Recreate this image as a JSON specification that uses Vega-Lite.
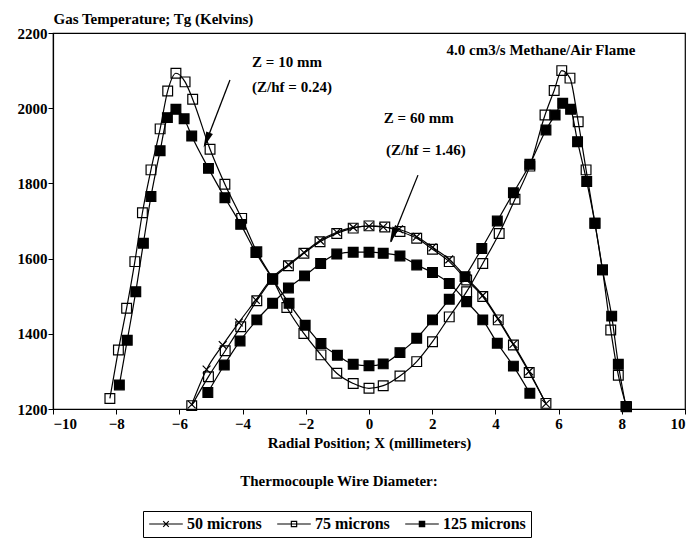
{
  "$schema": "https://vega.github.io/schema/vega-lite/v6.json",
  "width": 632,
  "height": 376,
  "autosize": {"type": "none"},
  "padding": {"left": 53, "top": 33, "right": 5, "bottom": 133},
  "background": "white",
  "datasets": {
    "pts": [
      {"z": "10 mm", "wire": "75 microns", "x": -8.2, "t": 1228},
      {"z": "10 mm", "wire": "75 microns", "x": -7.93, "t": 1357},
      {"z": "10 mm", "wire": "75 microns", "x": -7.67, "t": 1468},
      {"z": "10 mm", "wire": "75 microns", "x": -7.41, "t": 1592},
      {"z": "10 mm", "wire": "75 microns", "x": -7.17, "t": 1722},
      {"z": "10 mm", "wire": "75 microns", "x": -6.9, "t": 1836},
      {"z": "10 mm", "wire": "75 microns", "x": -6.61, "t": 1945},
      {"z": "10 mm", "wire": "75 microns", "x": -6.37, "t": 2046},
      {"z": "10 mm", "wire": "75 microns", "x": -6.11, "t": 2093},
      {"z": "10 mm", "wire": "75 microns", "x": -5.82, "t": 2070},
      {"z": "10 mm", "wire": "75 microns", "x": -5.58, "t": 2024},
      {"z": "10 mm", "wire": "75 microns", "x": -5.03, "t": 1891},
      {"z": "10 mm", "wire": "75 microns", "x": -4.56, "t": 1798},
      {"z": "10 mm", "wire": "75 microns", "x": -4.03, "t": 1707},
      {"z": "10 mm", "wire": "75 microns", "x": -3.55, "t": 1618},
      {"z": "10 mm", "wire": "75 microns", "x": -3.05, "t": 1546},
      {"z": "10 mm", "wire": "75 microns", "x": -2.6, "t": 1470},
      {"z": "10 mm", "wire": "75 microns", "x": -2.06, "t": 1401},
      {"z": "10 mm", "wire": "75 microns", "x": -1.52, "t": 1344},
      {"z": "10 mm", "wire": "75 microns", "x": -1.02, "t": 1295},
      {"z": "10 mm", "wire": "75 microns", "x": -0.5, "t": 1268},
      {"z": "10 mm", "wire": "75 microns", "x": 0, "t": 1255},
      {"z": "10 mm", "wire": "75 microns", "x": 0.45, "t": 1262},
      {"z": "10 mm", "wire": "75 microns", "x": 0.98, "t": 1288},
      {"z": "10 mm", "wire": "75 microns", "x": 1.51, "t": 1326},
      {"z": "10 mm", "wire": "75 microns", "x": 2.01, "t": 1379},
      {"z": "10 mm", "wire": "75 microns", "x": 2.54, "t": 1445},
      {"z": "10 mm", "wire": "75 microns", "x": 3.09, "t": 1512},
      {"z": "10 mm", "wire": "75 microns", "x": 3.6, "t": 1587},
      {"z": "10 mm", "wire": "75 microns", "x": 4.12, "t": 1667},
      {"z": "10 mm", "wire": "75 microns", "x": 4.62, "t": 1758},
      {"z": "10 mm", "wire": "75 microns", "x": 5.09, "t": 1846},
      {"z": "10 mm", "wire": "75 microns", "x": 5.57, "t": 1982},
      {"z": "10 mm", "wire": "75 microns", "x": 5.86, "t": 2047},
      {"z": "10 mm", "wire": "75 microns", "x": 6.1, "t": 2100},
      {"z": "10 mm", "wire": "75 microns", "x": 6.36, "t": 2080},
      {"z": "10 mm", "wire": "75 microns", "x": 6.62, "t": 1964},
      {"z": "10 mm", "wire": "75 microns", "x": 6.87, "t": 1836},
      {"z": "10 mm", "wire": "75 microns", "x": 7.15, "t": 1694},
      {"z": "10 mm", "wire": "75 microns", "x": 7.39, "t": 1570},
      {"z": "10 mm", "wire": "75 microns", "x": 7.65, "t": 1410},
      {"z": "10 mm", "wire": "75 microns", "x": 7.89, "t": 1290},
      {"z": "10 mm", "wire": "75 microns", "x": 8.15, "t": 1206},

      {"z": "10 mm", "wire": "125 microns", "x": -7.9, "t": 1264},
      {"z": "10 mm", "wire": "125 microns", "x": -7.65, "t": 1383},
      {"z": "10 mm", "wire": "125 microns", "x": -7.38, "t": 1512},
      {"z": "10 mm", "wire": "125 microns", "x": -7.14, "t": 1641},
      {"z": "10 mm", "wire": "125 microns", "x": -6.9, "t": 1765},
      {"z": "10 mm", "wire": "125 microns", "x": -6.61, "t": 1887},
      {"z": "10 mm", "wire": "125 microns", "x": -6.38, "t": 1975},
      {"z": "10 mm", "wire": "125 microns", "x": -6.11, "t": 1997},
      {"z": "10 mm", "wire": "125 microns", "x": -5.85, "t": 1972},
      {"z": "10 mm", "wire": "125 microns", "x": -5.61, "t": 1926},
      {"z": "10 mm", "wire": "125 microns", "x": -5.08, "t": 1840},
      {"z": "10 mm", "wire": "125 microns", "x": -4.56, "t": 1762},
      {"z": "10 mm", "wire": "125 microns", "x": -4.06, "t": 1691},
      {"z": "10 mm", "wire": "125 microns", "x": -3.58, "t": 1616},
      {"z": "10 mm", "wire": "125 microns", "x": -3.05, "t": 1546},
      {"z": "10 mm", "wire": "125 microns", "x": -2.53, "t": 1481},
      {"z": "10 mm", "wire": "125 microns", "x": -2.02, "t": 1423},
      {"z": "10 mm", "wire": "125 microns", "x": -1.52, "t": 1374},
      {"z": "10 mm", "wire": "125 microns", "x": -1.0, "t": 1343},
      {"z": "10 mm", "wire": "125 microns", "x": -0.5, "t": 1319},
      {"z": "10 mm", "wire": "125 microns", "x": 0, "t": 1315},
      {"z": "10 mm", "wire": "125 microns", "x": 0.45, "t": 1320},
      {"z": "10 mm", "wire": "125 microns", "x": 0.98, "t": 1350},
      {"z": "10 mm", "wire": "125 microns", "x": 1.51, "t": 1388},
      {"z": "10 mm", "wire": "125 microns", "x": 2.01, "t": 1437},
      {"z": "10 mm", "wire": "125 microns", "x": 2.54, "t": 1492},
      {"z": "10 mm", "wire": "125 microns", "x": 3.04, "t": 1552},
      {"z": "10 mm", "wire": "125 microns", "x": 3.57, "t": 1627},
      {"z": "10 mm", "wire": "125 microns", "x": 4.06, "t": 1700},
      {"z": "10 mm", "wire": "125 microns", "x": 4.57, "t": 1775},
      {"z": "10 mm", "wire": "125 microns", "x": 5.09, "t": 1851},
      {"z": "10 mm", "wire": "125 microns", "x": 5.6, "t": 1942},
      {"z": "10 mm", "wire": "125 microns", "x": 5.89, "t": 1982},
      {"z": "10 mm", "wire": "125 microns", "x": 6.13, "t": 2013},
      {"z": "10 mm", "wire": "125 microns", "x": 6.38, "t": 1997},
      {"z": "10 mm", "wire": "125 microns", "x": 6.6, "t": 1911},
      {"z": "10 mm", "wire": "125 microns", "x": 6.89, "t": 1805},
      {"z": "10 mm", "wire": "125 microns", "x": 7.15, "t": 1694},
      {"z": "10 mm", "wire": "125 microns", "x": 7.39, "t": 1570},
      {"z": "10 mm", "wire": "125 microns", "x": 7.68, "t": 1447},
      {"z": "10 mm", "wire": "125 microns", "x": 7.89, "t": 1319},
      {"z": "10 mm", "wire": "125 microns", "x": 8.13, "t": 1207},

      {"z": "60 mm", "wire": "50 microns", "x": -5.61, "t": 1212},
      {"z": "60 mm", "wire": "50 microns", "x": -5.14, "t": 1305},
      {"z": "60 mm", "wire": "50 microns", "x": -4.63, "t": 1370},
      {"z": "60 mm", "wire": "50 microns", "x": -4.12, "t": 1430},
      {"z": "60 mm", "wire": "50 microns", "x": -3.58, "t": 1490},
      {"z": "60 mm", "wire": "50 microns", "x": -3.05, "t": 1550},
      {"z": "60 mm", "wire": "50 microns", "x": -2.55, "t": 1584},
      {"z": "60 mm", "wire": "50 microns", "x": -2.06, "t": 1616},
      {"z": "60 mm", "wire": "50 microns", "x": -1.55, "t": 1648},
      {"z": "60 mm", "wire": "50 microns", "x": -1.02, "t": 1670},
      {"z": "60 mm", "wire": "50 microns", "x": -0.5, "t": 1683},
      {"z": "60 mm", "wire": "50 microns", "x": 0, "t": 1686},
      {"z": "60 mm", "wire": "50 microns", "x": 0.45, "t": 1684},
      {"z": "60 mm", "wire": "50 microns", "x": 0.95, "t": 1678},
      {"z": "60 mm", "wire": "50 microns", "x": 1.51, "t": 1658},
      {"z": "60 mm", "wire": "50 microns", "x": 2.01, "t": 1630},
      {"z": "60 mm", "wire": "50 microns", "x": 2.54, "t": 1598},
      {"z": "60 mm", "wire": "50 microns", "x": 3.09, "t": 1548},
      {"z": "60 mm", "wire": "50 microns", "x": 3.6, "t": 1502},
      {"z": "60 mm", "wire": "50 microns", "x": 4.09, "t": 1440},
      {"z": "60 mm", "wire": "50 microns", "x": 4.57, "t": 1373},
      {"z": "60 mm", "wire": "50 microns", "x": 5.07, "t": 1300},
      {"z": "60 mm", "wire": "50 microns", "x": 5.6, "t": 1214},

      {"z": "60 mm", "wire": "75 microns", "x": -5.61, "t": 1209},
      {"z": "60 mm", "wire": "75 microns", "x": -5.08, "t": 1286},
      {"z": "60 mm", "wire": "75 microns", "x": -4.55, "t": 1355},
      {"z": "60 mm", "wire": "75 microns", "x": -4.06, "t": 1419},
      {"z": "60 mm", "wire": "75 microns", "x": -3.55, "t": 1488},
      {"z": "60 mm", "wire": "75 microns", "x": -3.05, "t": 1546},
      {"z": "60 mm", "wire": "75 microns", "x": -2.55, "t": 1581},
      {"z": "60 mm", "wire": "75 microns", "x": -2.06, "t": 1614},
      {"z": "60 mm", "wire": "75 microns", "x": -1.55, "t": 1645},
      {"z": "60 mm", "wire": "75 microns", "x": -1.02, "t": 1667},
      {"z": "60 mm", "wire": "75 microns", "x": -0.5, "t": 1681},
      {"z": "60 mm", "wire": "75 microns", "x": 0, "t": 1687},
      {"z": "60 mm", "wire": "75 microns", "x": 0.5, "t": 1684},
      {"z": "60 mm", "wire": "75 microns", "x": 0.98, "t": 1672},
      {"z": "60 mm", "wire": "75 microns", "x": 1.51, "t": 1654},
      {"z": "60 mm", "wire": "75 microns", "x": 2.01, "t": 1625},
      {"z": "60 mm", "wire": "75 microns", "x": 2.54, "t": 1592},
      {"z": "60 mm", "wire": "75 microns", "x": 3.09, "t": 1543},
      {"z": "60 mm", "wire": "75 microns", "x": 3.6, "t": 1499},
      {"z": "60 mm", "wire": "75 microns", "x": 4.09, "t": 1437},
      {"z": "60 mm", "wire": "75 microns", "x": 4.57, "t": 1370},
      {"z": "60 mm", "wire": "75 microns", "x": 5.07, "t": 1297},
      {"z": "60 mm", "wire": "75 microns", "x": 5.6, "t": 1215},

      {"z": "60 mm", "wire": "125 microns", "x": -5.1, "t": 1244},
      {"z": "60 mm", "wire": "125 microns", "x": -4.58, "t": 1317},
      {"z": "60 mm", "wire": "125 microns", "x": -4.08, "t": 1381},
      {"z": "60 mm", "wire": "125 microns", "x": -3.55, "t": 1437},
      {"z": "60 mm", "wire": "125 microns", "x": -3.05, "t": 1481},
      {"z": "60 mm", "wire": "125 microns", "x": -2.55, "t": 1522},
      {"z": "60 mm", "wire": "125 microns", "x": -2.04, "t": 1554},
      {"z": "60 mm", "wire": "125 microns", "x": -1.53, "t": 1587},
      {"z": "60 mm", "wire": "125 microns", "x": -1.02, "t": 1612},
      {"z": "60 mm", "wire": "125 microns", "x": -0.5, "t": 1617},
      {"z": "60 mm", "wire": "125 microns", "x": 0, "t": 1617},
      {"z": "60 mm", "wire": "125 microns", "x": 0.45, "t": 1614},
      {"z": "60 mm", "wire": "125 microns", "x": 0.98, "t": 1607},
      {"z": "60 mm", "wire": "125 microns", "x": 1.51, "t": 1583},
      {"z": "60 mm", "wire": "125 microns", "x": 2.01, "t": 1563},
      {"z": "60 mm", "wire": "125 microns", "x": 2.54, "t": 1534},
      {"z": "60 mm", "wire": "125 microns", "x": 3.09, "t": 1485},
      {"z": "60 mm", "wire": "125 microns", "x": 3.6, "t": 1437},
      {"z": "60 mm", "wire": "125 microns", "x": 4.06, "t": 1375},
      {"z": "60 mm", "wire": "125 microns", "x": 4.57, "t": 1314},
      {"z": "60 mm", "wire": "125 microns", "x": 5.09, "t": 1242}
    ],
    "notes": [
      {"label": "Z = 10 mm", "x": -3.7, "t": 2123, "align": "left"},
      {"label": "(Z/hf = 0.24)", "x": -3.7, "t": 2056, "align": "left"},
      {"label": "4.0 cm3/s Methane/Air Flame", "x": 5.44, "t": 2155, "align": "center"},
      {"label": "Z = 60 mm", "x": 0.47, "t": 1974, "align": "left"},
      {"label": "(Z/hf = 1.46)", "x": 0.54, "t": 1889, "align": "left"},
      {"label": "Thermocouple Wire Diameter:", "x": -0.95, "t": 1008, "align": "center"}
    ],
    "arrows": [
      {"x": -4.4, "t": 2075, "x2": -5.2, "t2": 1900, "hx": -5.14, "ht": 1915},
      {"x": 1.55, "t": 1822, "x2": 0.7, "t2": 1645, "hx": 0.756, "ht": 1662}
    ]
  },
  "layer": [
    {
      "mark": {"type": "rule", "color": "black", "strokeWidth": 1},
      "encoding": {"x": {"datum": 0, "type": "quantitative"}}
    },
    {
      "data": {"name": "pts"},
      "mark": {"type": "line", "color": "black", "strokeWidth": 1.2, "interpolate": "monotone"},
      "encoding": {
        "x": {
          "field": "x", "type": "quantitative",
          "scale": {"domain": [-10, 10], "nice": false, "zero": false},
          "axis": {
            "values": [-10, -8, -6, -4, -2, 0, 2, 4, 6, 8, 10],
            "format": "d",
            "title": "Radial Position; X (millimeters)",
            "labelPadding": 2, "titlePadding": 4
          }
        },
        "y": {
          "field": "t", "type": "quantitative",
          "scale": {"domain": [1200, 2200], "nice": false, "zero": false},
          "axis": {
            "values": [1200, 1300, 1400, 1500, 1600, 1700, 1800, 1900, 2000, 2100, 2200],
            "format": "d",
            "title": "Gas Temperature; Tg (Kelvins)",
            "titleAngle": 0, "titleAlign": "left", "titleBaseline": "middle",
            "titleX": 0, "titleY": -15, "labelPadding": 1
          }
        },
        "detail": [{"field": "z"}, {"field": "wire"}],
        "order": {"field": "x", "type": "quantitative"}
      }
    },
    {
      "data": {"name": "pts"},
      "mark": {"type": "point", "stroke": "black", "strokeWidth": 1.2, "size": 95, "opacity": 1},
      "encoding": {
        "x": {"field": "x", "type": "quantitative"},
        "y": {"field": "t", "type": "quantitative"},
        "shape": {
          "field": "wire", "type": "nominal",
          "scale": {"domain": ["50 microns", "75 microns", "125 microns"], "range": ["M-0.8,-0.8L0.8,0.8M-0.8,0.8L0.8,-0.8", "square", "square"]},
          "legend": null
        },
        "fill": {
          "field": "wire", "type": "nominal",
          "scale": {"domain": ["50 microns", "75 microns", "125 microns"], "range": ["transparent", "transparent", "black"]},
          "legend": null
        }
      }
    },
    {
      "data": {"name": "pts"},
      "transform": [{"filter": "false"}],
      "mark": {"type": "point", "strokeWidth": 1.2, "opacity": 1},
      "encoding": {
        "x": {"field": "x", "type": "quantitative"},
        "y": {"field": "t", "type": "quantitative"},
        "shape": {
          "field": "wire", "type": "nominal",
          "scale": {"domain": ["50 microns", "75 microns", "125 microns"], "range": [
            "M-2.4,0H2.4M-0.4,-0.4L0.4,0.4M-0.4,0.4L0.4,-0.4",
            "M-2.4,0H2.4M-0.38,-0.38H0.38V0.38H-0.38Z",
            "M-2.4,0H2.4M-0.38,-0.38H0.38V0.38H-0.38Z"
          ]},
          "legend": {"title": null}
        },
        "fill": {
          "field": "wire", "type": "nominal",
          "scale": {"domain": ["50 microns", "75 microns", "125 microns"], "range": ["white", "white", "black"]},
          "legend": {"title": null}
        },
        "stroke": {
          "field": "wire", "type": "nominal",
          "scale": {"domain": ["50 microns", "75 microns", "125 microns"], "range": ["black", "black", "black"]},
          "legend": {"title": null}
        }
      }
    },
    {
      "data": {"name": "arrows"},
      "mark": {"type": "rule", "color": "black", "strokeWidth": 1.3},
      "encoding": {
        "x": {"field": "x", "type": "quantitative"},
        "y": {"field": "t", "type": "quantitative"},
        "x2": {"field": "x2"},
        "y2": {"field": "t2"}
      }
    },
    {
      "data": {"name": "arrows"},
      "mark": {"type": "point", "shape": "M0,1L-0.45,-1L0.45,-1Z", "filled": true, "color": "black", "size": 256, "angle": 22, "opacity": 1},
      "encoding": {
        "x": {"field": "hx", "type": "quantitative"},
        "y": {"field": "ht", "type": "quantitative"}
      }
    },
    {
      "data": {"name": "notes"},
      "transform": [{"filter": "datum.align == 'left'"}],
      "mark": {"type": "text", "align": "left", "baseline": "middle", "font": "Liberation Serif, serif", "fontSize": 15, "fontWeight": "bold", "color": "black"},
      "encoding": {
        "x": {"field": "x", "type": "quantitative"},
        "y": {"field": "t", "type": "quantitative"},
        "text": {"field": "label"}
      }
    },
    {
      "data": {"name": "notes"},
      "transform": [{"filter": "datum.align == 'center'"}],
      "mark": {"type": "text", "align": "center", "baseline": "middle", "font": "Liberation Serif, serif", "fontSize": 15, "fontWeight": "bold", "color": "black"},
      "encoding": {
        "x": {"field": "x", "type": "quantitative"},
        "y": {"field": "t", "type": "quantitative"},
        "text": {"field": "label"}
      }
    }
  ],
  "resolve": {"scale": {"shape": "independent", "fill": "independent", "stroke": "independent"}},
  "config": {
    "view": {"stroke": "black", "strokeWidth": 1.2},
    "font": "Liberation Serif, serif",
    "axis": {
      "labelFont": "Liberation Serif, serif", "labelFontSize": 15, "labelFontWeight": "bold", "labelColor": "black",
      "titleFont": "Liberation Serif, serif", "titleFontSize": 15, "titleFontWeight": "bold", "titleColor": "black",
      "domainColor": "black", "tickColor": "black", "grid": false, "tickSize": 5, "domainWidth": 1.2
    },
    "legend": {
      "orient": "none", "legendX": 90, "legendY": 478, "direction": "horizontal",
      "strokeColor": "black", "padding": 5,
      "labelFont": "Liberation Serif, serif", "labelFontSize": 16, "labelFontWeight": "bold", "labelColor": "black",
      "symbolSize": 196, "symbolOffset": 10, "symbolStrokeWidth": 1.2, "symbolStrokeColor": "black",
      "labelOffset": 13, "columnPadding": 12
    }
  }
}
